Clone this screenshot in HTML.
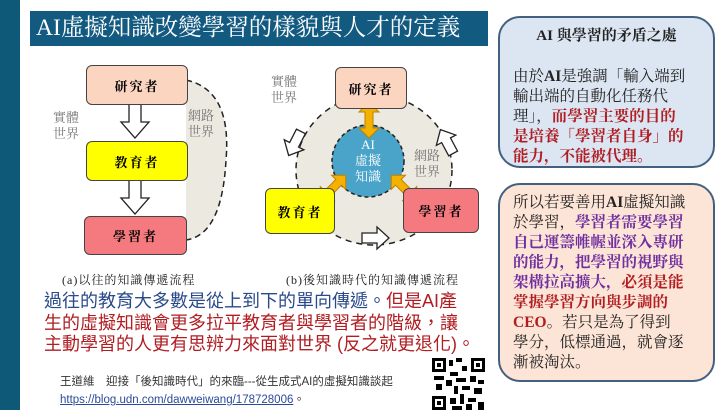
<!DOCTYPE html>
<html><head><meta charset="utf-8"><style>
body{margin:0;width:728px;height:410px;background:#fff;position:relative;overflow:hidden;font-family:"Liberation Serif","Noto Serif CJK SC",serif}
.a{position:absolute}
.box{position:absolute;border:1.5px solid #444;border-radius:6px;display:flex;align-items:center;justify-content:center;font-weight:bold;font-size:13px;letter-spacing:2px;font-family:"Liberation Serif","Noto Serif CJK SC",serif}
.g{color:#777;font-size:13px;line-height:16px;font-family:"Liberation Serif","Noto Serif CJK SC",serif}
.r{color:#b01e23}.p{color:#7030a0}
.rb{position:absolute;border:2px solid #44607f;border-radius:22px;box-sizing:border-box;font-size:15.5px;line-height:20px;padding:0 0 0 13px;font-family:"Liberation Serif","Noto Serif CJK SC",serif;color:#222;white-space:nowrap}
</style></head><body>
<div class="a" style="left:0;top:0;width:20px;height:410px;background:#0e5878"></div>
<div class="a" style="left:30px;top:11px;width:458px;height:35px;background:#135a80;color:#fff;font-size:23.5px;line-height:35px;padding-left:6px;box-sizing:border-box;white-space:nowrap;overflow:hidden;font-family:'Liberation Serif','Noto Serif CJK TC',serif">AI虛擬知識改變學習的樣貌與人才的定義</div>
<svg class="a" style="left:0;top:0" width="490" height="290">
<defs><g id="ha"><polygon points="-6,-20 6,-20 6,0 14,0 0,16 -14,0 -6,0" fill="#fff" stroke="#222" stroke-width="1.3"/></g>
<g id="hr"><polygon points="-13,-5 2,-5 2,-11 14,0 2,11 2,5 -13,5" fill="#fff" stroke="#222" stroke-width="1.3"/></g>
<g id="da"><polygon points="-18,0 -8,-10 -8,-4 8,-4 8,-10 18,0 8,10 8,4 -8,4 -8,10" fill="#f5b100" stroke="#c08000" stroke-width="1"/></g></defs>
<path d="M186,80 Q232,90 226,160 Q222,235 186,240 L186,80Z" fill="#ece9e1"/>
<path d="M186,80 Q232,90 226,160 Q222,235 186,240" fill="none" stroke="#222" stroke-width="1.5" stroke-dasharray="6,4"/>
<use href="#ha" x="135" y="122"/><use href="#ha" x="135" y="198"/>
<ellipse cx="374" cy="170" rx="78" ry="75" fill="#ece9e1" stroke="#222" stroke-width="1.5" stroke-dasharray="6,5"/>
<circle cx="368" cy="161" r="36" fill="#4aa3c8" stroke="#222" stroke-width="1.5" stroke-dasharray="4,3"/>
<use href="#da" transform="translate(369,120) rotate(90)"/>
<use href="#da" transform="translate(333,188) rotate(-45)"/>
<use href="#da" transform="translate(404,188) rotate(45)"/>
<use href="#hr" transform="translate(295,143) rotate(117)"/>
<use href="#hr" transform="translate(447,142) rotate(-118)"/>
<use href="#hr" transform="translate(375,238)"/>
</svg>
<div class="box" style="left:86px;top:65px;width:100px;height:38px;background:#fbd5c0">研究者</div>
<div class="box" style="left:86px;top:141px;width:100px;height:38px;background:#ffff00">教育者</div>
<div class="box" style="left:84px;top:216px;width:101px;height:37px;background:#f47a7f">學習者</div>
<div class="a g" style="left:53px;top:110px">實體<br>世界</div>
<div class="a g" style="left:188px;top:108px">網路<br>世界</div>
<div class="box" style="left:335px;top:67px;width:70px;height:40px;background:#fbd5c0">研究者</div>
<div class="box" style="left:265px;top:188px;width:68px;height:44px;background:#ffff00">教育者</div>
<div class="box" style="left:403px;top:188px;width:74px;height:43px;background:#f47a7f">學習者</div>
<div class="a g" style="left:271px;top:74px">實體<br>世界</div>
<div class="a g" style="left:414px;top:148px">網路<br>世界</div>
<div class="a" style="left:350px;top:137px;width:36px;text-align:center;color:#fff;font-size:13px;line-height:16px">AI<br>虛擬<br>知識</div>
<div class="a" style="left:62px;top:271px;font-size:12px;color:#222;letter-spacing:1px">(a)以往的知識傳遞流程</div>
<div class="a" style="left:286px;top:271px;font-size:12px;color:#222;letter-spacing:1px">(b)後知識時代的知識傳遞流程</div>
<div class="a" style="left:44px;top:291px;font-size:18px;line-height:21.5px;color:#2a4a8a;white-space:nowrap;font-family:'Liberation Sans','Noto Sans CJK TC',sans-serif">過往的教育大多數是從上到下的單向傳遞。<span class="r">但是AI產<br>生的虛擬知識會更多拉平教育者與學習者的階級，讓<br>主動學習的人更有思辨力來面對世界 (反之就更退化)。</span></div>
<div class="a" style="left:60px;top:373px;font-size:11.5px;line-height:18px;color:#333;font-family:'Liberation Sans','Noto Sans CJK TC',sans-serif">王道維　迎接「後知識時代」的來臨---從生成式AI的虛擬知識談起<br><span style="color:#2b4a9b;text-decoration:underline">https://blog.udn.com/dawweiwang/178728006</span>。</div>
<svg class="a" style="left:432px;top:358px" width="53" height="52"><rect width="53" height="52" fill="#fff"/>
<g fill="#000"><rect x="0" y="0" width="14" height="14"/><rect x="3" y="3" width="8" height="8" fill="#fff"/><rect x="5" y="5" width="4" height="4"/>
<rect x="39" y="0" width="14" height="14"/><rect x="42" y="3" width="8" height="8" fill="#fff"/><rect x="44" y="5" width="4" height="4"/>
<rect x="0" y="38" width="14" height="14"/><rect x="3" y="41" width="8" height="8" fill="#fff"/><rect x="5" y="43" width="4" height="4"/>
<rect x="17" y="2" width="4" height="6"/><rect x="24" y="0" width="6" height="4"/><rect x="30" y="8" width="5" height="5"/><rect x="18" y="14" width="8" height="4"/><rect x="2" y="18" width="10" height="4"/><rect x="14" y="22" width="6" height="6"/><rect x="24" y="20" width="10" height="4"/><rect x="38" y="18" width="6" height="6"/><rect x="46" y="22" width="6" height="4"/><rect x="4" y="26" width="6" height="6"/><rect x="22" y="28" width="4" height="8"/><rect x="30" y="28" width="8" height="4"/><rect x="42" y="30" width="8" height="6"/><rect x="18" y="40" width="6" height="6"/><rect x="28" y="36" width="4" height="10"/><rect x="36" y="40" width="8" height="4"/><rect x="46" y="44" width="6" height="8"/><rect x="20" y="48" width="10" height="4"/><rect x="34" y="46" width="6" height="6"/></g></svg>
<div class="rb" style="left:498px;top:16px;width:217px;height:152px;background:#dce6f2">
<div style="text-align:center;font-weight:bold;font-size:15px;margin:8px 13px 21px 0">AI 與學習的矛盾之處</div>
<div>由於<b>AI</b>是強調「輸入端到<br>輸出端的自動化任務代<br>理」，<b class="r">而學習主要的目的<br>是培養「學習者自身」的<br>能力，不能被代理。</b></div></div>
<div class="rb" style="left:498px;top:183px;width:217px;height:199px;background:#fce4d6;padding-top:8px">所以若要善用<b>AI</b>虛擬知識<br>於學習，<b class="p">學習者需要學習<br>自己運籌帷幄並深入專研<br>的能力，把學習的視野與<br>架構拉高擴大，</b><b class="r">必須是能<br>掌握學習方向與步調的<br>CEO</b>。若只是為了得到<br>學分，低標通過，就會逐<br>漸被淘汰。</div>
</body></html>
